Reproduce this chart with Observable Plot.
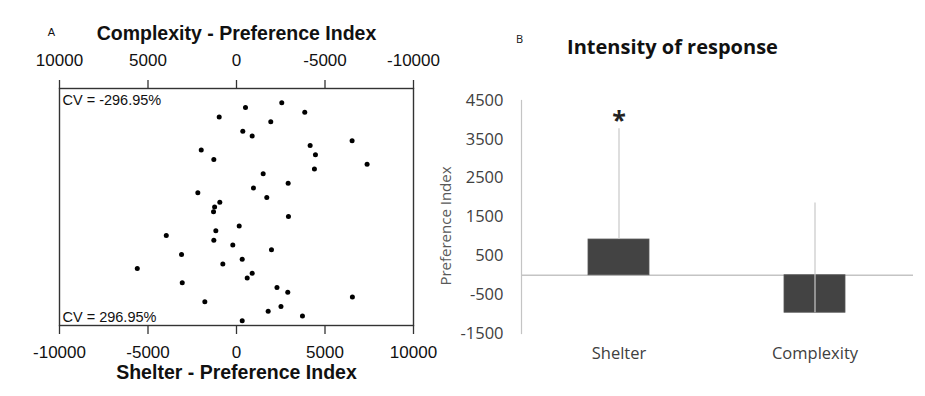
<!DOCTYPE html>
<html>
<head>
<meta charset="utf-8">
<script src="https://cdn.jsdelivr.net/npm/d3@7"></script>
<script src="https://cdn.jsdelivr.net/npm/@observablehq/plot@0.6"></script>
<style>
  html, body { margin: 0; padding: 0; background: #fff; }
  #wrap { position: relative; width: 925px; height: 396px; overflow: hidden; background: #fff; }
  .panel { position: absolute; top: 0; }
  .panel svg { overflow: visible; }
</style>
</head>
<body>
<div id="wrap">
  <div id="pa" class="panel" style="left:0px"></div>
  <div id="pb" class="panel" style="left:420px"></div>
</div>
<script>
// ---------- Panel A data ----------
const rowOrder = [6, 8, 10, 12, 14, 18, 20, 22, 24, 26, 28, 30, 32, 34, 36, 40, 42, 44, 46, 48, 50, 52, 54, 58, 60, 62, 64, 66, 68, 70, 72, 74, 76, 78, 80, 82, 84, 86, 88, 90, 92, 94, 96, 98];
const shelterPI = [2557, 508, 3856, -977, 1936, 356, 886, 6531, 4160, -1993, 4460, -1281, 7378, 4403, 1507, 2918, 960, -2185, 1710, -943, -1236, -1298, 2935, 152, -1168, -3968, -1281, -209, 1976, -3105, 322, -773, -5605, 886, 604, -3065, 2286, 2896, 6548, -1789, 2512, 1789, 3726, 322];
const shelterTicks = [-10000, -5000, 0, 5000, 10000];
const complexityTicks = [10000, 5000, 0, -5000, -10000];
const cvLabels = ["CV = -296.95%", "CV = 296.95%"];
const titleA = ["Complexity - Preference Index", "Shelter - Preference Index"];
const panelA = ["A"];

// ---------- Panel B data ----------
const categories = ["Shelter", "Complexity"];
const meanPI = [920, -965];
const sdPI = [2850, 2825];
const significant = ["*", ""];
const yTicksB = [-1500, -500, 500, 1500, 2500, 3500, 4500];
const titleB = ["Intensity of response"];
const yLabelB = ["Preference Index"];
const panelB = ["B"];

const points = shelterPI.map((v, i) => ({shelter: v, row: rowOrder[i]}));
const bars = categories.map((c, i) => ({cat: c, mean: meanPI[i], top: meanPI[i] + sdPI[i], sig: significant[i]}));

const fontA = "'Liberation Sans', Arial, sans-serif";
const fontB = "'Open Sans', sans-serif";

const plotA = Plot.plot({
  width: 460, height: 396,
  marginLeft: 59, marginRight: 47, marginTop: 88, marginBottom: 71,
  style: {fontFamily: fontA, fontSize: "17px", color: "#000", background: "transparent"},
  x: {domain: [-10000, 10000], label: null},
  y: {domain: [0, 100], reverse: true, axis: null},
  marks: [
    Plot.axisX({anchor: "bottom", label: null, ticks: shelterTicks, tickSize: 9, tickPadding: 11, stroke: "#333", strokeWidth: 1.3, tickFormat: d => String(d), fontSize: 17, fill: "#111"}),
    Plot.axisX({anchor: "top", label: null, ticks: complexityTicks.map(c => -c), tickSize: 9, tickPadding: 14, stroke: "#333", strokeWidth: 1.3, tickFormat: d => String(-d), fontSize: 17, fill: "#111"}),
    Plot.frame({stroke: "#333", strokeWidth: 1.4}),
    Plot.dot(points, {x: "shelter", y: "row", r: 2.5, fill: "#000", stroke: null}),
    Plot.text([cvLabels[0]], {frameAnchor: "top-left", dx: 3, dy: 12, textAnchor: "start", lineAnchor: "middle", fontSize: 14.5, fill: "#111"}),
    Plot.text([cvLabels[1]], {frameAnchor: "bottom-left", dx: 3, dy: -8.5, textAnchor: "start", lineAnchor: "middle", fontSize: 14.5, fill: "#111"}),
    Plot.text([titleA[0]], {frameAnchor: "top", dy: -54.7, textAnchor: "middle", lineAnchor: "middle", fontSize: 19.5, fontWeight: "bold", fill: "#111"}),
    Plot.text([titleA[1]], {frameAnchor: "bottom", dy: 47, textAnchor: "middle", lineAnchor: "middle", fontSize: 19.5, fontWeight: "bold", fill: "#111"}),
    Plot.text(panelA, {frameAnchor: "top-left", dx: -8, dy: -56, textAnchor: "middle", lineAnchor: "middle", fontSize: 11, fill: "#111"})
  ]
});
document.getElementById("pa").appendChild(plotA);

const plotB = Plot.plot({
  width: 505, height: 396,
  marginLeft: 101, marginRight: 12, marginTop: 100, marginBottom: 63,
  style: {fontFamily: fontB, fontSize: "16.5px", color: "#404040", background: "transparent"},
  x: {domain: categories, paddingInner: 0.687, paddingOuter: 0.3435, axis: null, label: null},
  y: {domain: [-1500, 4500], axis: null, label: null},
  marks: [
    Plot.axisY({ticks: yTicksB, label: null, tickSize: 0, tickPadding: 18, tickFormat: d => String(d), fontSize: 16.5, fill: "#404040"}),
    Plot.axisX({label: null, tickSize: 0, tickPadding: 14, fontSize: 16.5, fill: "#404040"}),
    Plot.frame({anchor: "left", stroke: "#c4c4c4", strokeWidth: 1.2}),
    Plot.ruleY([0], {stroke: "#c4c4c4", strokeWidth: 1.5}),
    Plot.barY(bars, {x: "cat", y: "mean", fill: "#434343", stroke: "#555", strokeWidth: 0.8}),
    Plot.ruleX(bars, {x: "cat", y1: "mean", y2: "top", stroke: "#c8c8c8", strokeWidth: 1.2}),
    Plot.text(bars, {x: "cat", y: "top", text: "sig", dy: 0, lineAnchor: "bottom", fontSize: 25, fontWeight: "bold", fill: "#222"}),
    Plot.text(titleB, {frameAnchor: "top", dx: -45, dy: -52.5, textAnchor: "middle", lineAnchor: "middle", fontSize: 20, fontWeight: "bold", fill: "#111"}),
    Plot.text(yLabelB, {frameAnchor: "left", rotate: -90, dx: -75, dy: 9, textAnchor: "middle", lineAnchor: "middle", fontSize: 15, fill: "#595959"}),
    Plot.text(panelB, {frameAnchor: "top-left", dx: -2, dy: -61, textAnchor: "middle", lineAnchor: "middle", fontSize: 11, fill: "#111"})
  ]
});
document.getElementById("pb").appendChild(plotB);
</script>
</body>
</html>
